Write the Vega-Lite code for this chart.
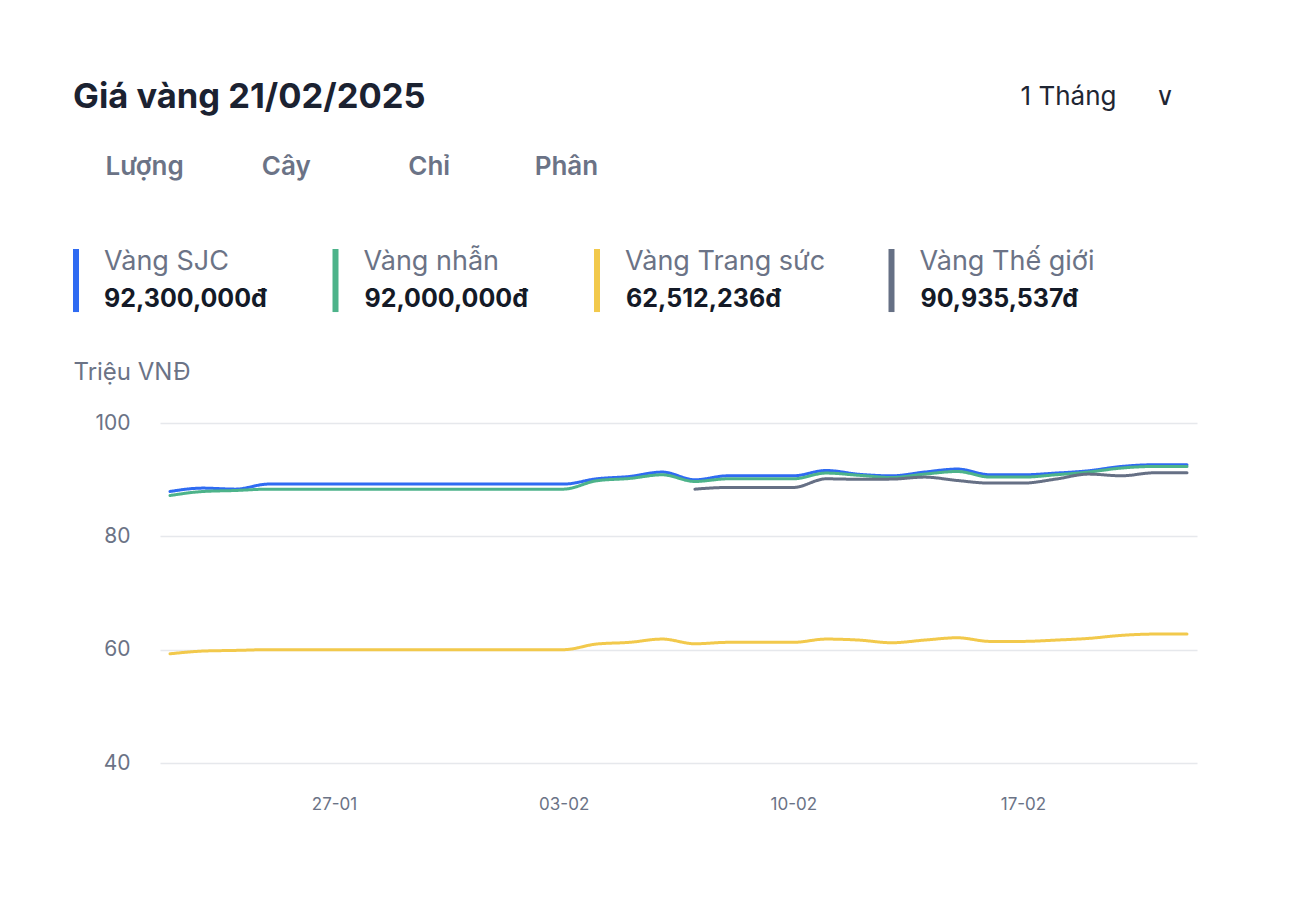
{
  "$schema": "https://vega.github.io/schema/vega-lite/v6.json",
  "width": 1037,
  "height": 340,
  "autosize": {"type": "none"},
  "padding": {"left": 160, "top": 423, "right": 97, "bottom": 149},
  "background": "#ffffff",
  "datasets": {
    "gia": [
      {"d": "2025-01-22", "sjc": 87.91, "nhan": 87.20, "trang": 59.27},
      {"d": "2025-01-23", "sjc": 88.51, "nhan": 87.91, "trang": 59.75},
      {"d": "2025-01-24", "sjc": 88.33, "nhan": 88.09, "trang": 59.87},
      {"d": "2025-01-25", "sjc": 89.22, "nhan": 88.33, "trang": 60.0},
      {"d": "2025-01-26", "sjc": 89.22, "nhan": 88.33, "trang": 60.0},
      {"d": "2025-01-27", "sjc": 89.22, "nhan": 88.33, "trang": 60.0},
      {"d": "2025-01-28", "sjc": 89.22, "nhan": 88.33, "trang": 60.0},
      {"d": "2025-01-29", "sjc": 89.22, "nhan": 88.33, "trang": 60.0},
      {"d": "2025-01-30", "sjc": 89.22, "nhan": 88.33, "trang": 60.0},
      {"d": "2025-01-31", "sjc": 89.22, "nhan": 88.33, "trang": 60.0},
      {"d": "2025-02-01", "sjc": 89.22, "nhan": 88.33, "trang": 60.0},
      {"d": "2025-02-02", "sjc": 89.22, "nhan": 88.33, "trang": 60.0},
      {"d": "2025-02-03", "sjc": 89.22, "nhan": 88.33, "trang": 60.0},
      {"d": "2025-02-04", "sjc": 90.15, "nhan": 89.80, "trang": 60.99},
      {"d": "2025-02-05", "sjc": 90.56, "nhan": 90.21, "trang": 61.29},
      {"d": "2025-02-06", "sjc": 91.34, "nhan": 90.86, "trang": 61.87},
      {"d": "2025-02-07", "sjc": 89.98, "nhan": 89.68, "trang": 61.04, "the": 88.33},
      {"d": "2025-02-08", "sjc": 90.68, "nhan": 90.15, "trang": 61.29, "the": 88.62},
      {"d": "2025-02-09", "sjc": 90.68, "nhan": 90.15, "trang": 61.29, "the": 88.62},
      {"d": "2025-02-10", "sjc": 90.68, "nhan": 90.15, "trang": 61.29, "the": 88.62},
      {"d": "2025-02-11", "sjc": 91.62, "nhan": 91.16, "trang": 61.87, "the": 90.15},
      {"d": "2025-02-12", "sjc": 90.95, "nhan": 90.77, "trang": 61.69, "the": 90.07},
      {"d": "2025-02-13", "sjc": 90.68, "nhan": 90.38, "trang": 61.22, "the": 90.10},
      {"d": "2025-02-14", "sjc": 91.34, "nhan": 90.98, "trang": 61.69, "the": 90.45},
      {"d": "2025-02-15", "sjc": 91.87, "nhan": 91.44, "trang": 62.10, "the": 89.85},
      {"d": "2025-02-16", "sjc": 90.86, "nhan": 90.45, "trang": 61.46, "the": 89.39},
      {"d": "2025-02-17", "sjc": 90.86, "nhan": 90.45, "trang": 61.46, "the": 89.39},
      {"d": "2025-02-18", "sjc": 91.16, "nhan": 90.86, "trang": 61.69, "the": 90.10},
      {"d": "2025-02-19", "sjc": 91.57, "nhan": 91.34, "trang": 61.99, "the": 90.98},
      {"d": "2025-02-20", "sjc": 92.33, "nhan": 92.05, "trang": 62.52, "the": 90.68},
      {"d": "2025-02-21", "sjc": 92.63, "nhan": 92.33, "trang": 62.75, "the": 91.21},
      {"d": "2025-02-22", "sjc": 92.63, "nhan": 92.33, "trang": 62.75, "the": 91.21}
    ],
    "series": [
      {"key": "sjc", "name": "Vàng SJC", "price": "92,300,000đ"},
      {"key": "nhan", "name": "Vàng nhẫn", "price": "92,000,000đ"},
      {"key": "trang", "name": "Vàng Trang sức", "price": "62,512,236đ"},
      {"key": "the", "name": "Vàng Thế giới", "price": "90,935,537đ"}
    ]
  },
  "data": {"name": "gia"},
  "transform": [
    {"fold": ["sjc", "nhan", "trang", "the"], "as": ["key", "value"]},
    {"filter": "isValid(datum.value)"},
    {"lookup": "key", "from": {"data": {"name": "series"}, "key": "key", "fields": ["name", "price"]}}
  ],
  "title": {
    "text": "Giá vàng 21/02/2025",
    "subtitle": "\u200b\u2002\u2002\u00a0Lượng\u2002\u2002\u2002\u2002\u2002\u2002Cây\u2002\u2002\u2002\u2002\u2002\u2002\u2002\u00a0Chỉ\u2002\u2002\u2002\u2002\u2002\u2002\u00a0Phân",
    "anchor": "start",
    "frame": "group",
    "orient": "top",
    "dx": -87,
    "offset": -98,
    "font": "Inter",
    "fontSize": 34.5,
    "fontWeight": "bold",
    "color": "#1b2231",
    "subtitleFont": "Inter",
    "subtitleFontSize": 26,
    "subtitleFontWeight": 600,
    "subtitleColor": "#6b7386",
    "subtitlePadding": 39
  },
  "mark": {"type": "line", "strokeWidth": 3, "interpolate": "monotone", "strokeJoin": "round", "strokeCap": "round"},
  "encoding": {
    "x": {
      "field": "d",
      "type": "temporal",
      "timeUnit": "utcyearmonthdate",
      "scale": {
        "nice": false,
        "domain": [
          {"year": 2025, "month": 1, "date": 21, "hours": 16, "minutes": 41, "utc": true},
          {"year": 2025, "month": 2, "date": 22, "hours": 7, "minutes": 19, "utc": true}
        ]
      },
      "axis": {
        "values": [
          {"year": 2025, "month": 1, "date": 27, "utc": true},
          {"year": 2025, "month": 2, "date": 3, "utc": true},
          {"year": 2025, "month": 2, "date": 10, "utc": true},
          {"year": 2025, "month": 2, "date": 17, "utc": true}
        ],
        "format": "%d-%m",
        "labelFont": "Inter",
        "labelFontSize": 17,
        "labelColor": "#6b7386",
        "labelPadding": 33,
        "ticks": false,
        "domain": false,
        "grid": false,
        "title": "1 Tháng\u2003\u2002\u2228",
        "titleFont": "Inter, 'DejaVu Sans'",
        "titleFontSize": 26,
        "titleFontWeight": "normal",
        "titleColor": "#1f2633",
        "titleX": 860,
        "titleY": -667,
        "titleAlign": "left",
        "titleBaseline": "middle",
        "titleAnchor": "start"
      }
    },
    "y": {
      "field": "value",
      "type": "quantitative",
      "scale": {"domain": [40, 100], "nice": false, "zero": false},
      "axis": {
        "values": [40, 60, 80, 100],
        "labelFont": "Inter",
        "labelFontSize": 21,
        "labelColor": "#6b7386",
        "labelPadding": 30,
        "ticks": false,
        "domain": false,
        "grid": true,
        "gridColor": "#e6e8ec",
        "gridWidth": 1.5,
        "title": "Triệu VNĐ",
        "titleFont": "Inter",
        "titleFontSize": 24,
        "titleFontWeight": "normal",
        "titleColor": "#6b7386",
        "titleAngle": 0,
        "titleX": -87,
        "titleY": -51,
        "titleAlign": "left",
        "titleBaseline": "middle"
      }
    },
    "color": {
      "field": "name",
      "type": "nominal",
      "scale": {
        "domain": ["Vàng SJC", "Vàng nhẫn", "Vàng Trang sức", "Vàng Thế giới"],
        "range": ["#2f6bf2", "#4db38a", "#f2c94c", "#667085"]
      },
      "legend": {
        "orient": "none",
        "legendX": -100,
        "legendY": -177,
        "direction": "horizontal",
        "columns": 4,
        "title": null,
        "padding": 0,
        "symbolType": "M0,-1V3.85",
        "symbolSize": 676,
        "symbolStrokeWidth": 6,
        "labelFont": "Inter",
        "labelFontSize": 27,
        "labelColor": "#6b7386",
        "labelOffset": 12,
        "labelLimit": 400,
        "labelExpr": "datum.label == 'Vàng SJC' ? datum.label + '\u2002\u2002\u2002\u200b' : datum.label == 'Vàng nhẫn' ? datum.label + '\u2002\u2002\u2009\u200b' : datum.label",
        "columnPadding": 49.5,
        "gridAlign": "none"
      }
    },
    "strokeDash": {
      "field": "price",
      "type": "nominal",
      "scale": {
        "domain": ["92,300,000đ", "92,000,000đ", "62,512,236đ", "90,935,537đ"],
        "range": [[1, 0], [1, 0], [1, 0], [1, 0]]
      },
      "legend": {
        "orient": "none",
        "legendX": -100,
        "legendY": -138,
        "direction": "horizontal",
        "columns": 4,
        "title": null,
        "padding": 0,
        "symbolSize": 676,
        "symbolOpacity": 0,
        "labelFont": "Inter",
        "labelFontSize": 25,
        "labelFontWeight": "bold",
        "labelColor": "#141a27",
        "labelOffset": 16,
        "labelLimit": 400,
        "labelExpr": "datum.label == '62,512,236đ' ? datum.label + '\u2002\u2002\u2002\u2009\u200b' : datum.label",
        "columnPadding": 53.5,
        "gridAlign": "none"
      }
    }
  },
  "config": {"view": {"stroke": null}, "font": "Inter"}
}
